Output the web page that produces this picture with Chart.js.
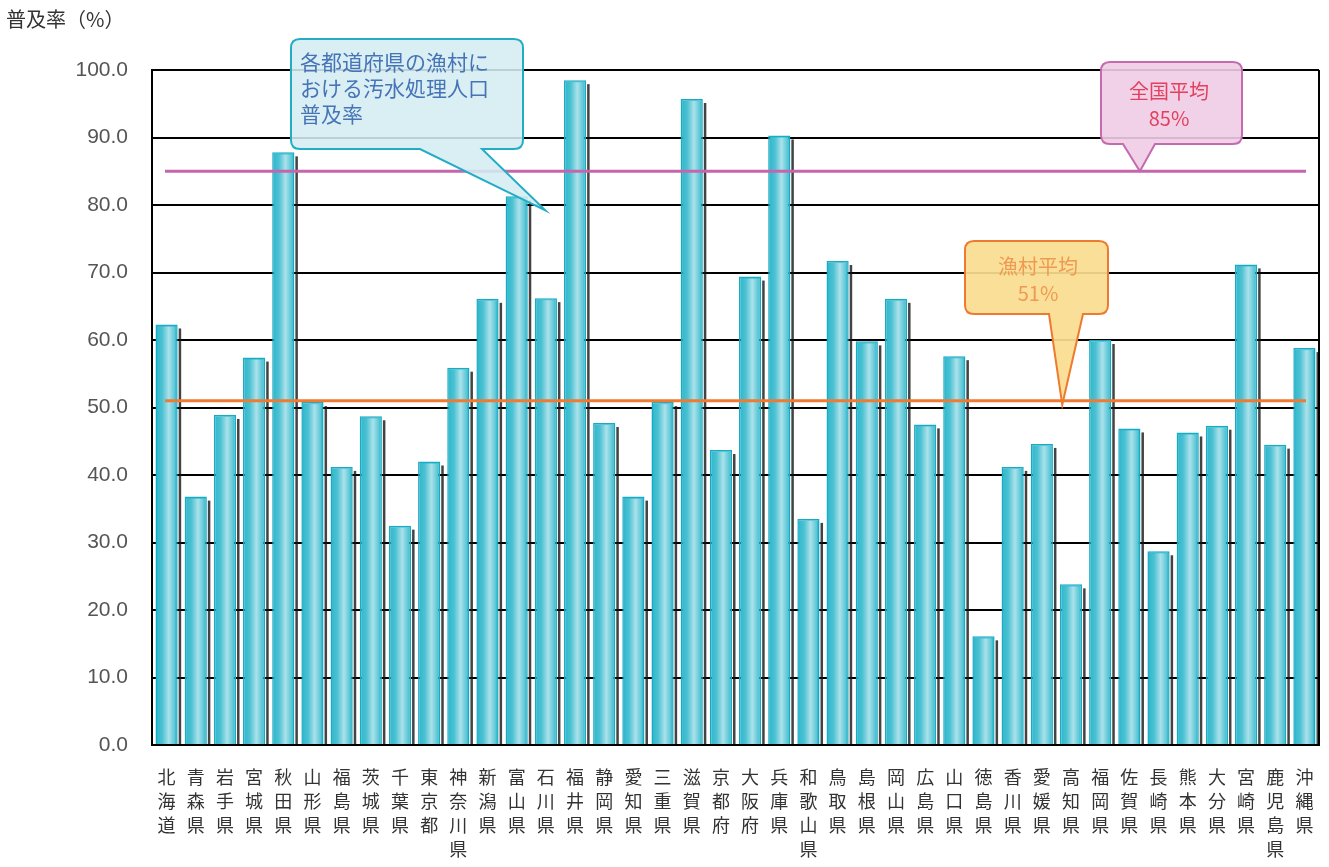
<!DOCTYPE html>
<html>
<head>
<meta charset="utf-8">
<script src="https://cdn.jsdelivr.net/npm/chart.js@4"></script>
<style>
  html, body { margin: 0; padding: 0; background: #fff; }
  #wrap { width: 1329px; height: 867px; }
</style>
</head>
<body>
<div id="wrap"><canvas id="c"></canvas></div>
<script>
// 都道府県（漁村の汚水処理人口普及率）
const prefectures = [
  '北海道','青森県','岩手県','宮城県','秋田県','山形県','福島県','茨城県','千葉県','東京都',
  '神奈川県','新潟県','富山県','石川県','福井県','静岡県','愛知県','三重県','滋賀県','京都府',
  '大阪府','兵庫県','和歌山県','鳥取県','島根県','岡山県','広島県','山口県','徳島県','香川県',
  '愛媛県','高知県','福岡県','佐賀県','長崎県','熊本県','大分県','宮崎県','鹿児島県','沖縄県'
];
const rates = [
  62.3, 36.8, 48.9, 57.4, 87.8, 50.8, 41.2, 48.7, 32.5, 42.0,
  55.9, 66.1, 81.3, 66.2, 98.5, 47.7, 36.8, 50.8, 95.7, 43.7,
  69.4, 90.3, 33.5, 71.7, 59.8, 66.1, 47.5, 57.6, 16.1, 41.2,
  44.6, 23.8, 60.0, 46.9, 28.7, 46.3, 47.3, 71.2, 44.5, 58.8
];
const yTicks = [0, 10, 20, 30, 40, 50, 60, 70, 80, 90, 100];
const nationalAvg = 85;   // 全国平均
const villageAvg = 51;    // 漁村平均

const JP = '"Noto Sans CJK JP", "Noto Sans", sans-serif';

// 吹き出し：箱＋三角の先端
function callout(ctx, box, tip, base, st) {
  const { x, y, w, h } = box, r = 9;
  ctx.save();
  ctx.beginPath();
  ctx.moveTo(x + r, y);
  ctx.lineTo(x + w - r, y);
  ctx.quadraticCurveTo(x + w, y, x + w, y + r);
  ctx.lineTo(x + w, y + h - r);
  ctx.quadraticCurveTo(x + w, y + h, x + w - r, y + h);
  ctx.lineTo(base[1], y + h);
  ctx.lineTo(tip.x, tip.y);
  ctx.lineTo(base[0], y + h);
  ctx.lineTo(x + r, y + h);
  ctx.quadraticCurveTo(x, y + h, x, y + h - r);
  ctx.lineTo(x, y + r);
  ctx.quadraticCurveTo(x, y, x + r, y);
  ctx.closePath();
  ctx.fillStyle = st.fill;
  ctx.fill();
  ctx.lineWidth = 2;
  ctx.strokeStyle = st.stroke;
  ctx.stroke();
  ctx.fillStyle = st.text;
  ctx.font = st.font;
  ctx.textBaseline = 'middle';
  ctx.textAlign = st.align;
  st.lines.forEach((t, i) => {
    ctx.fillText(t, st.tx, st.ty + i * st.lh);
  });
  ctx.restore();
}

const decor = {
  id: 'decor',
  afterDatasetsDraw(chart) {
    const ctx = chart.ctx;
    const xs = chart.scales.x, ys = chart.scales.y;
    const area = chart.chartArea;
    const meta = chart.getDatasetMeta(0);

    // 棒の立体感（影とハイライト）
    meta.data.forEach(bar => {
      const left = bar.x - bar.width / 2, right = bar.x + bar.width / 2;
      ctx.save();
      ctx.fillStyle = 'rgba(20,20,20,0.8)';
      ctx.fillRect(right + 1, bar.y + 4, 2.5, bar.base - bar.y - 4);
      const g = ctx.createLinearGradient(left, 0, right, 0);
      g.addColorStop(0, 'rgba(255,255,255,0)');
      g.addColorStop(0.3, 'rgba(255,255,255,0.15)');
      g.addColorStop(0.6, 'rgba(255,255,255,0.6)');
      g.addColorStop(0.85, 'rgba(255,255,255,0.25)');
      g.addColorStop(1, 'rgba(255,255,255,0)');
      ctx.fillStyle = g;
      ctx.fillRect(left + 2, bar.y + 2, bar.width - 4, bar.base - bar.y - 2);
      ctx.restore();
    });

    // 右側の枠線
    ctx.save();
    ctx.strokeStyle = '#000';
    ctx.lineWidth = 2;
    ctx.beginPath();
    ctx.moveTo(area.right, area.top);
    ctx.lineTo(area.right, area.bottom);
    ctx.stroke();

    // 平均線
    const x0 = area.left + 13, x1 = area.right - 13;
    [[nationalAvg, '#c566ac'], [villageAvg, '#ee7a34']].forEach(([v, c]) => {
      const py = ys.getPixelForValue(v);
      ctx.strokeStyle = c;
      ctx.lineWidth = 3;
      ctx.beginPath();
      ctx.moveTo(x0, py);
      ctx.lineTo(x1, py);
      ctx.stroke();
    });
    ctx.restore();

    // 吹き出し
    callout(ctx, { x: 291, y: 39, w: 232, h: 110 },
      { x: xs.getPixelForValue(12.98), y: ys.getPixelForValue(79.2) }, [420, 482],
      { fill: 'rgba(212,237,243,0.88)', stroke: '#22adc5', text: '#4774b6',
        font: '21px ' + JP, align: 'left', tx: 300, ty: 62, lh: 26,
        lines: ['各都道府県の漁村に', 'おける汚水処理人口', '普及率'] });
    callout(ctx, { x: 1101, y: 62, w: 141, h: 82 },
      { x: xs.getPixelForValue(33.36), y: ys.getPixelForValue(nationalAvg) }, [1123, 1155],
      { fill: 'rgba(238,204,228,0.9)', stroke: '#c56aaf', text: '#e2405e',
        font: '20px ' + JP, align: 'center', tx: 1169, ty: 91, lh: 27,
        lines: ['全国平均', '85%'] });
    callout(ctx, { x: 965, y: 241, w: 143, h: 73 },
      { x: xs.getPixelForValue(30.7), y: ys.getPixelForValue(50.4) }, [1049, 1083],
      { fill: 'rgba(249,220,142,0.92)', stroke: '#ee7a30', text: '#ef9a52',
        font: '20px ' + JP, align: 'center', tx: 1038, ty: 266, lh: 27,
        lines: ['漁村平均', '51%'] });

    // 軸タイトル
    ctx.save();
    ctx.fillStyle = '#333';
    ctx.font = '20px ' + JP;
    ctx.textBaseline = 'middle';
    ctx.textAlign = 'left';
    ctx.fillText('普及率（%）', 6, 19);
    ctx.restore();
  }
};

new Chart(document.getElementById('c'), {
  type: 'bar',
  data: {
    labels: prefectures.map(p => p.split('')),
    datasets: [{
      label: '普及率',
      data: rates,
      backgroundColor: '#2cb6cb',
      borderColor: '#18abc4',
      borderWidth: 1.5,
      barPercentage: 0.76,
      categoryPercentage: 1
    }]
  },
  options: {
    responsive: true,
    maintainAspectRatio: false,
    animation: false,
    layout: { padding: { top: 70, right: 10, left: 0, bottom: 0 } },
    plugins: {
      legend: { display: false },
      tooltip: { enabled: false }
    },
    scales: {
      x: {
        grid: { display: false },
        border: { display: true, color: '#000', width: 2 },
        ticks: {
          color: '#333',
          font: { family: JP, size: 18, lineHeight: '24px' },
          maxRotation: 0,
          autoSkip: false,
          padding: 12
        },
        afterFit: s => { s.height = 122; }
      },
      y: {
        min: 0,
        max: 100,
        afterBuildTicks: s => { s.ticks = yTicks.map(v => ({ value: v })); },
        grid: { color: '#000', lineWidth: 2, drawTicks: false },
        border: { display: true, color: '#000', width: 2 },
        ticks: {
          color: '#555',
          font: { family: '"Liberation Sans", Arial, sans-serif', size: 21 },
          padding: 24,
          callback: v => v.toFixed(1)
        },
        afterFit: s => { s.width = 152; }
      }
    }
  },
  plugins: [decor]
});
</script>
</body>
</html>
